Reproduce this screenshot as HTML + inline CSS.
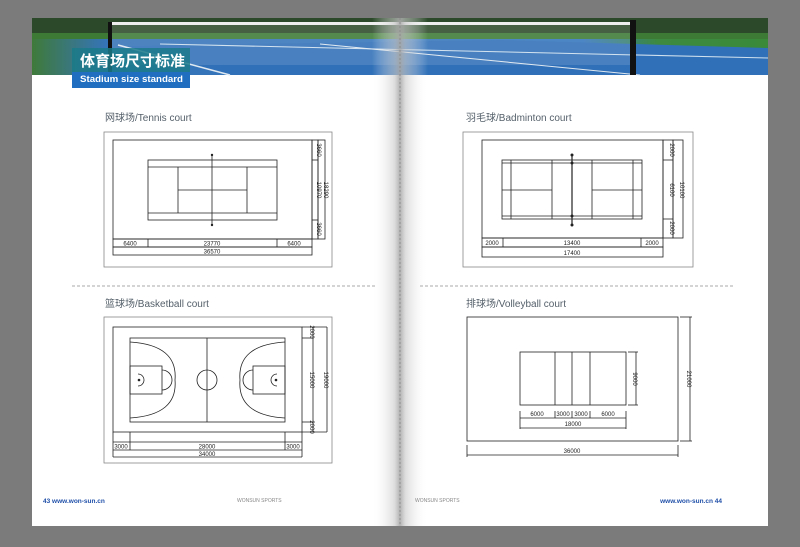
<!DOCTYPE html>
<html><head><meta charset="utf-8"><style>
html,body{margin:0;padding:0;background:#7b7b7b;}
svg{display:block}
text{font-family:"Liberation Sans","Noto Sans CJK SC",sans-serif;}
</style></head><body>
<svg width="800" height="547" viewBox="0 0 800 547" xmlns="http://www.w3.org/2000/svg">
<defs>
<linearGradient id="spine" x1="0" x2="1">
<stop offset="0" stop-color="#fff" stop-opacity="0"/>
<stop offset="0.4" stop-color="#c8c8c8" stop-opacity="0.6"/>
<stop offset="0.5" stop-color="#a8a8a8" stop-opacity="0.9"/>
<stop offset="0.6" stop-color="#c8c8c8" stop-opacity="0.6"/>
<stop offset="1" stop-color="#fff" stop-opacity="0"/>
</linearGradient>
<linearGradient id="court" x1="0" x2="1">
<stop offset="0" stop-color="#3f7a3a"/>
<stop offset="0.1" stop-color="#3574b8"/>
<stop offset="0.75" stop-color="#3576bc"/>
<stop offset="0.85" stop-color="#3d8a40"/>
<stop offset="1" stop-color="#3a8a3a"/>
</linearGradient>
</defs>
<rect x="0" y="0" width="800" height="547" fill="#7b7b7b"/>
<rect x="32" y="18" width="736" height="508" fill="#fff"/>
<!-- banner -->
<rect x="32" y="18" width="736" height="57" fill="url(#court)"/>
<rect x="32" y="18" width="736" height="15" fill="#2c4a2a"/>
<rect x="32" y="33" width="736" height="6" fill="#3d7a35"/>
<polygon points="118,46 500,40 768,48 768,75 230,75" fill="#3070b8"/>
<line x1="118" y1="45" x2="230" y2="75" stroke="#dfe8f0" stroke-width="1.5"/>
<line x1="160" y1="44" x2="768" y2="58" stroke="#cfe0ee" stroke-width="1"/>
<line x1="320" y1="44" x2="640" y2="75" stroke="#dfe8f0" stroke-width="1"/>
<rect x="108" y="22" width="4" height="53" fill="#111"/>
<rect x="630" y="20" width="6" height="55" fill="#111"/>
<rect x="112" y="22" width="518" height="3" fill="#eee"/>
<rect x="112" y="25" width="518" height="40" fill="#fff" opacity="0.12"/>
<!-- title box -->
<rect x="72" y="48" width="118" height="24" fill="#1b7a8a" opacity="0.85"/>
<rect x="72" y="72" width="118" height="16" fill="#1f6ec0"/>
<text x="80" y="66" font-size="15" font-weight="bold" fill="#fff">体育场尺寸标准</text>
<text x="80" y="82" font-size="9.5" font-weight="bold" fill="#fff" textLength="103" lengthAdjust="spacingAndGlyphs">Stadium size standard</text>
<!-- spine -->
<rect x="372" y="18" width="56" height="508" fill="url(#spine)"/>
<line x1="400" y1="18" x2="400" y2="526" stroke="#888" stroke-dasharray="2,2" stroke-width="0.8"/>
<!-- titles -->
<g font-size="10" fill="#55606a">
<text x="105" y="121">网球场/Tennis court</text>
<text x="466" y="121">羽毛球/Badminton court</text>
<text x="105" y="307">篮球场/Basketball court</text>
<text x="466" y="307">排球场/Volleyball court</text>
</g>
<g stroke="#aaa" stroke-dasharray="3,2">
<line x1="72" y1="286" x2="375" y2="286"/>
<line x1="420" y1="286" x2="735" y2="286"/>
</g>
<g fill="none" stroke="#222" stroke-width="0.8">
<!-- Tennis -->
<rect x="104" y="132" width="228" height="135" stroke="#888"/>
<rect x="113" y="140" width="199" height="99"/>
<rect x="113" y="239" width="199" height="8"/><line x1="148" y1="239" x2="148" y2="247"/><line x1="277" y1="239" x2="277" y2="247"/>
<rect x="113" y="247" width="199" height="8"/>
<rect x="312" y="140" width="6" height="99"/><line x1="312" y1="160" x2="318" y2="160"/><line x1="312" y1="220" x2="318" y2="220"/>
<rect x="318" y="140" width="7" height="99"/>
<rect x="148" y="160" width="129" height="60"/>
<line x1="148" y1="167" x2="277" y2="167"/><line x1="148" y1="213" x2="277" y2="213"/>
<line x1="178" y1="167" x2="178" y2="213"/><line x1="247" y1="167" x2="247" y2="213"/>
<line x1="178" y1="190" x2="247" y2="190"/>
<line x1="212" y1="155" x2="212" y2="225"/>
<!-- Badminton -->
<rect x="463" y="132" width="230" height="135" stroke="#888"/>
<rect x="482" y="140" width="181" height="98"/>
<rect x="482" y="238" width="181" height="9"/><line x1="503" y1="238" x2="503" y2="247"/><line x1="641" y1="238" x2="641" y2="247"/>
<rect x="482" y="247" width="181" height="10"/>
<rect x="663" y="140" width="10" height="98"/><line x1="663" y1="160" x2="673" y2="160"/><line x1="663" y1="219" x2="673" y2="219"/>
<rect x="673" y="140" width="10" height="98"/>
<rect x="502" y="160" width="140" height="59"/>
<line x1="502" y1="163" x2="642" y2="163"/><line x1="502" y1="216" x2="642" y2="216"/>
<line x1="511" y1="160" x2="511" y2="219"/><line x1="633" y1="160" x2="633" y2="219"/>
<line x1="552" y1="160" x2="552" y2="219"/><line x1="592" y1="160" x2="592" y2="219"/>
<line x1="502" y1="190" x2="552" y2="190"/><line x1="592" y1="190" x2="642" y2="190"/>
<line x1="572" y1="155" x2="572" y2="225" stroke-width="1.2"/>
<!-- Basketball -->
<rect x="104" y="317" width="228" height="146" stroke="#888"/>
<rect x="113" y="327" width="189" height="105"/>
<rect x="130" y="338" width="155" height="84"/>
<line x1="207" y1="338" x2="207" y2="422"/>
<circle cx="207" cy="380" r="10"/>
<path d="M130,342 Q178,345 175,380 Q178,415 130,418"/>
<path d="M285,342 Q237,345 240,380 Q237,415 285,418"/>
<rect x="130" y="366" width="32" height="28"/>
<rect x="253" y="366" width="32" height="28"/>
<path d="M162,370 A10,10 0 0 1 162,390"/>
<path d="M253,370 A10,10 0 0 0 253,390"/>
<path d="M138,374 A6,6 0 0 1 138,386"/>
<path d="M277,374 A6,6 0 0 0 277,386"/>
<line x1="113" y1="432" x2="113" y2="457"/><line x1="302" y1="432" x2="302" y2="457"/>
<line x1="130" y1="432" x2="130" y2="450"/><line x1="285" y1="432" x2="285" y2="450"/>
<line x1="113" y1="442" x2="302" y2="442"/><line x1="113" y1="450" x2="302" y2="450"/><line x1="113" y1="457" x2="302" y2="457"/>
<line x1="302" y1="327" x2="327" y2="327"/><line x1="302" y1="432" x2="327" y2="432"/>
<line x1="302" y1="338" x2="313" y2="338"/><line x1="302" y1="422" x2="313" y2="422"/>
<line x1="313" y1="327" x2="313" y2="432"/><line x1="327" y1="327" x2="327" y2="432"/>
<!-- Volleyball -->
<rect x="467" y="317" width="211" height="124"/>
<line x1="690" y1="317" x2="690" y2="441"/><line x1="680" y1="317" x2="692" y2="317"/><line x1="680" y1="441" x2="692" y2="441"/>
<line x1="467" y1="455" x2="678" y2="455"/><line x1="467" y1="445" x2="467" y2="457"/><line x1="678" y1="445" x2="678" y2="457"/>
<rect x="520" y="352" width="106" height="53"/>
<line x1="555" y1="352" x2="555" y2="405"/><line x1="572" y1="352" x2="572" y2="405"/><line x1="590" y1="352" x2="590" y2="405"/>
<line x1="636" y1="352" x2="636" y2="405"/><line x1="628" y1="352" x2="638" y2="352"/><line x1="628" y1="405" x2="638" y2="405"/>
<line x1="520" y1="418" x2="626" y2="418"/>
<line x1="520" y1="411" x2="520" y2="429"/><line x1="555" y1="411" x2="555" y2="418"/><line x1="572" y1="411" x2="572" y2="418"/><line x1="590" y1="411" x2="590" y2="418"/><line x1="626" y1="411" x2="626" y2="429"/>
<line x1="520" y1="428" x2="626" y2="428"/>
</g>
<g fill="#222">
<circle cx="212" cy="155" r="1.2"/><circle cx="212" cy="225" r="1.2"/>
<circle cx="572" cy="155" r="1.5"/><circle cx="572" cy="163" r="1.5"/><circle cx="572" cy="216" r="1.5"/><circle cx="572" cy="225" r="1.5"/>
<circle cx="139" cy="380" r="1.3"/><circle cx="276" cy="380" r="1.3"/>
</g>
<g font-size="6" fill="#222" text-anchor="middle">
<text x="130" y="245.5">6400</text><text x="212" y="245.5">23770</text><text x="294" y="245.5">6400</text>
<text x="212" y="253.5">36570</text>
<text x="492" y="245">2000</text><text x="572" y="245">13400</text><text x="652" y="245">2000</text>
<text x="572" y="255">17400</text>
<text x="121" y="448.5">3000</text><text x="207" y="448.5">28000</text><text x="293" y="448.5">3000</text>
<text x="207" y="456">34000</text>
<text x="537" y="416">6000</text><text x="563" y="416">3000</text><text x="581" y="416">3000</text><text x="608" y="416">6000</text>
<text x="573" y="426">18000</text>
<text x="572" y="453">36000</text>
</g>
<g font-size="6" fill="#222" text-anchor="middle">
<text transform="translate(317,150) rotate(90)">3660</text>
<text transform="translate(317,190) rotate(90)">10970</text>
<text transform="translate(317,229) rotate(90)">3660</text>
<text transform="translate(324,190) rotate(90)">18290</text>
<text transform="translate(670,150) rotate(90)">2000</text>
<text transform="translate(670,190) rotate(90)">6100</text>
<text transform="translate(670,228) rotate(90)">2000</text>
<text transform="translate(680,190) rotate(90)">10100</text>
<text transform="translate(310,332) rotate(90)">2000</text>
<text transform="translate(310,380) rotate(90)">15000</text>
<text transform="translate(310,427) rotate(90)">2000</text>
<text transform="translate(324,380) rotate(90)">19000</text>
<text transform="translate(633,379) rotate(90)">9000</text>
<text transform="translate(687,379) rotate(90)">21000</text>
</g>
<!-- footer -->
<text x="43" y="503" font-size="6.5" font-weight="bold" fill="#1f4fa8">43 www.won-sun.cn</text>
<text x="237" y="502" font-size="5" fill="#888">WONSUN SPORTS</text>
<text x="415" y="502" font-size="5" fill="#888">WONSUN SPORTS</text>
<text x="722" y="503" font-size="6.5" font-weight="bold" fill="#1f4fa8" text-anchor="end">www.won-sun.cn 44</text>
</svg>
</body></html>
